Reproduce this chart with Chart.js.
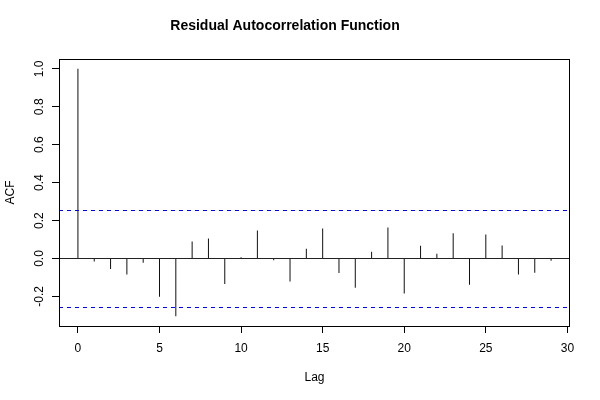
<!DOCTYPE html>
<html><head><meta charset="utf-8">
<script src="https://cdn.jsdelivr.net/npm/chart.js@4"></script>
<style>html,body{margin:0;padding:0;background:#fff}#wrap{width:600px;height:400px}</style>
</head><body><div id="wrap"><canvas id="c" width="600" height="400"></canvas></div>
<script>
const lags = [0,1,2,3,4,5,6,7,8,9,10,11,12,13,14,15,16,17,18,19,20,21,22,23,24,25,26,27,28,29];
const acfValues = [1.0,-0.016,-0.056,-0.084,-0.023,-0.202,-0.304,0.089,0.105,-0.135,0.007,0.147,-0.009,-0.121,0.051,0.158,-0.077,-0.154,0.035,0.163,-0.184,0.067,0.025,0.133,-0.139,0.126,0.068,-0.084,-0.075,-0.012];
const confLimit = 0.255;
const xTickValues = [0,5,10,15,20,25,30];
const yTickValues = [-0.2,0,0.2,0.4,0.6,0.8,1.0];
const yTickLabels = ['-0.2','0.0','0.2','0.4','0.6','0.8','1.0'];
const xRange = [-1.16, 30.16];
const yRange = [-0.356, 1.052];
const titleText = 'Residual Autocorrelation Function';
const xTitle = 'Lag';
const yTitle = 'ACF';

const FONT = '"Liberation Sans", Arial, Helvetica, sans-serif';

const rPlot = {
  id: 'rPlot',
  afterDatasetsDraw(chart) {
    const {ctx, chartArea: a, scales: {x, y}} = chart;
    ctx.save();
    ctx.beginPath(); ctx.rect(a.left, a.top, a.right - a.left, a.bottom - a.top); ctx.clip();
    ctx.strokeStyle = '#222'; ctx.lineWidth = 1;
    const y0 = Math.round(y.getPixelForValue(0)) + 0.5;
    ctx.beginPath(); ctx.moveTo(a.left, y0); ctx.lineTo(a.right, y0); ctx.stroke();
    ctx.strokeStyle = '#0000ff'; ctx.setLineDash([4,4]);
    [confLimit, -confLimit].forEach(v => {
      const py = Math.round(y.getPixelForValue(v)) + 0.5;
      ctx.beginPath(); ctx.moveTo(a.left, py); ctx.lineTo(a.right, py); ctx.stroke();
    });
    ctx.restore();
  },
  afterDraw(chart) {
    const {ctx, chartArea: a, scales: {y}} = chart;
    ctx.save();
    ctx.strokeStyle = '#000'; ctx.lineWidth = 1;
    ctx.strokeRect(Math.round(a.left) + 0.5, Math.round(a.top) + 0.5, Math.round(a.right - a.left) - 1, Math.round(a.bottom - a.top));
    ctx.fillStyle = '#000';
    ctx.font = '12px ' + FONT;
    ctx.textAlign = 'center'; ctx.textBaseline = 'middle';
    yTickValues.forEach((v, i) => {
      const py = y.getPixelForValue(v);
      ctx.save();
      ctx.translate(a.left - 19, py);
      ctx.rotate(-Math.PI / 2);
      ctx.fillText(yTickLabels[i], 0, 0);
      ctx.restore();
    });
    ctx.restore();
  }
};

new Chart(document.getElementById('c'), {
  type: 'bar',
  data: {
    datasets: [{
      data: lags.map((l, i) => ({x: l, y: acfValues[i]})),
      backgroundColor: '#111',
      borderWidth: 0,
      inflateAmount: 0,
      barThickness: 1
    }]
  },
  options: {
    responsive: false,
    devicePixelRatio: 1,
    animation: false,
    layout: {padding: {left: 0, right: 30, top: 0, bottom: 0}},
    plugins: {
      legend: {display: false},
      tooltip: {enabled: false},
      title: {
        display: true, text: titleText, color: '#000',
        font: {family: FONT, size: 14, weight: 'bold'},
        padding: {top: 17.5, bottom: 24.7}
      }
    },
    scales: {
      x: {
        type: 'linear', min: xRange[0], max: xRange[1], offset: false,
        afterBuildTicks: s => { s.ticks = xTickValues.map(v => ({value: v})); },
        afterFit: s => { s.height = 74; },
        grid: {offset: false, drawOnChartArea: false, drawTicks: true, tickLength: 7, color: '#000'},
        border: {display: false},
        ticks: {color: '#000', font: {family: FONT, size: 12}, padding: 8, maxRotation: 0, callback: v => String(v)},
        title: {display: true, text: xTitle, color: '#000', font: {family: FONT, size: 12}, padding: {top: 0, bottom: 15}}
      },
      y: {
        type: 'linear', min: yRange[0], max: yRange[1],
        afterBuildTicks: s => { s.ticks = yTickValues.map(v => ({value: v})); },
        afterFit: s => { s.width = 59; },
        grid: {drawOnChartArea: false, drawTicks: true, tickLength: 7, color: '#000'},
        border: {display: false},
        ticks: {display: false},
        title: {display: true, text: yTitle, color: '#000', font: {family: FONT, size: 12}, padding: {top: 3, bottom: 0}}
      }
    }
  },
  plugins: [rPlot]
});
</script>
</body></html>
